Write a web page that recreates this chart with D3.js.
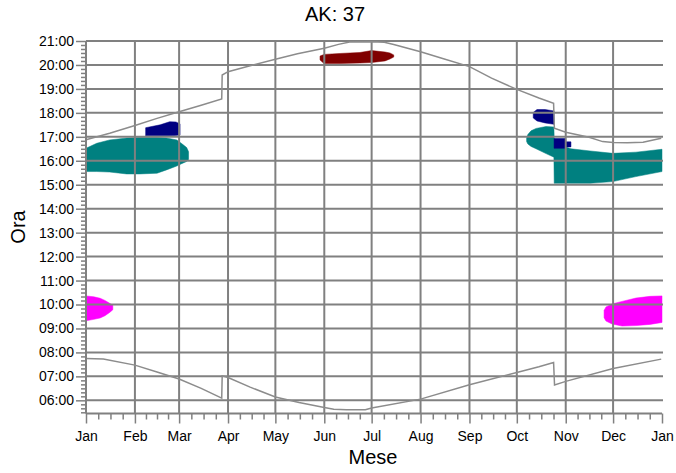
<!DOCTYPE html>
<html>
<head>
<meta charset="utf-8">
<script src="https://cdn.jsdelivr.net/npm/d3@7"></script>
<style>
  html, body { margin: 0; padding: 0; background: #fff; }
  svg { display: block; font-family: "Liberation Sans", Arial, sans-serif; }
</style>
</head>
<body>
<svg id="chart" width="676" height="473"></svg>
<script>
// ---------- data (day of year 0..365, time in decimal hours) ----------
const title = "AK: 37";
const xLabel = "Mese";
const yLabel = "Ora";
const hourTicks = [6,7,8,9,10,11,12,13,14,15,16,17,18,19,20,21];

// sunset curve
const sunsetDays  = [0, 15, 31, 45, 59, 73, 86, 86.3, 90, 104, 120, 134, 151, 160, 167, 181, 189, 195, 212, 226, 243, 257, 273, 287, 296.3, 296.8, 304, 318.8, 327.4, 334, 343, 353, 364.5];
const sunsetTimes = [16.88, 17.15, 17.47, 17.77, 18.05, 18.32, 18.58, 19.58, 19.72, 19.97, 20.24, 20.47, 20.70, 20.86, 20.96, 20.97, 20.95, 20.85, 20.55, 20.27, 19.93, 19.45, 18.98, 18.62, 18.40, 17.36, 17.19, 16.98, 16.80, 16.76, 16.75, 16.77, 16.94];

// sunrise curve
const sunriseDays  = [0, 11, 31, 45, 59, 73, 86, 86.3, 90, 104, 120, 135, 151, 157, 165, 177, 181, 212, 243, 273, 287, 296.3, 296.9, 304, 334, 364.5];
const sunriseTimes = [7.75, 7.72, 7.47, 7.18, 6.89, 6.50, 6.09, 7.02, 6.95, 6.55, 6.14, 5.91, 5.70, 5.63, 5.61, 5.61, 5.68, 6.05, 6.65, 7.16, 7.40, 7.58, 6.64, 6.79, 7.33, 7.72];

// shadow regions: day, top time, bottom time
const tealLeftDays   = [0, 6.8, 15, 25.8, 34, 45, 51, 57.5, 60.6, 63.8, 65];
const tealLeftTop    = [16.52, 16.73, 16.87, 16.95, 16.97, 16.97, 16.95, 16.87, 16.72, 16.55, 16.38];
const tealLeftBottom = [15.55, 15.55, 15.53, 15.45, 15.45, 15.48, 15.62, 15.78, 15.88, 15.97, 16.05];

const navyLeftDays   = [37.8, 47, 53, 57, 59.6];
const navyLeftTop    = [17.38, 17.50, 17.63, 17.62, 17.54];
const navyLeftBottom = [17.04, 17.04, 17.04, 17.06, 17.08];

const magentaLeftDays   = [0, 5, 9, 12, 15, 17];
const magentaLeftTop    = [10.36, 10.32, 10.26, 10.17, 10.05, 9.97];
const magentaLeftBottom = [9.32, 9.38, 9.44, 9.53, 9.67, 9.78];

const maroonDays   = [148.3, 150.8, 161, 173.6, 181, 189.5, 192.6, 195];
const maroonTop    = [20.37, 20.44, 20.48, 20.52, 20.60, 20.54, 20.50, 20.42];
const maroonBottom = [20.21, 20.06, 20.06, 20.08, 20.10, 20.17, 20.25, 20.33];

const tealRightDays   = [279.2, 280.0, 282.0, 285.2, 291.5, 296.5, 296.7, 303.8, 303.9, 307.3, 319.4, 333.8, 348.5, 365];
const tealRightTop    = [16.95, 17.10, 17.25, 17.35, 17.43, 17.41, 16.90, 16.90, 16.58, 16.50, 16.41, 16.31, 16.36, 16.48];
const tealRightBottom = [16.80, 16.70, 16.60, 16.50, 16.30, 16.15, 15.06, 15.06, 15.06, 15.06, 15.06, 15.13, 15.34, 15.55];

const navyRightUpperDays   = [283.4, 285.8, 290.9, 296.6];
const navyRightUpperTop    = [18.02, 18.14, 18.14, 18.08];
const navyRightUpperBottom = [17.79, 17.66, 17.58, 17.52];

const navyRightLowerDays   = [296.6, 303.8, 303.9, 307.3];
const navyRightLowerTop    = [16.93, 16.93, 16.79, 16.79];
const navyRightLowerBottom = [16.52, 16.52, 16.58, 16.58];

const magentaRightDays   = [328.3, 329.5, 333.3, 339.7, 348.5, 357.4, 365];
const magentaRightTop    = [9.75, 9.90, 10.02, 10.13, 10.27, 10.34, 10.36];
const magentaRightBottom = [9.45, 9.31, 9.19, 9.10, 9.12, 9.17, 9.25];

// ---------- chart ----------
const svg = d3.select("#chart");
const yearStart = Date.UTC(2015, 0, 1);
const toDate = d => new Date(yearStart + d * 864e5);

const x = d3.scaleUtc().domain([toDate(0), toDate(365)]).range([86, 662]);
const y = d3.scaleLinear().domain([5.45, 21]).range([413.5, 41]);

const gridColor = "#808080";
const colors = { teal: "#008080", navy: "#000080", maroon: "#800000", magenta: "#ff00ff" };

const zip = (days, top, bottom) => days.map((d, i) => ({ day: d, top: top[i], bottom: bottom[i] }));
const area = d3.area()
  .x(d => x(toDate(d.day)))
  .y0(d => y(d.bottom))
  .y1(d => y(d.top));

const regions = [
  [zip(tealLeftDays, tealLeftTop, tealLeftBottom), colors.teal],
  [zip(tealRightDays, tealRightTop, tealRightBottom), colors.teal],
  [zip(navyLeftDays, navyLeftTop, navyLeftBottom), colors.navy],
  [zip(navyRightUpperDays, navyRightUpperTop, navyRightUpperBottom), colors.navy],
  [zip(navyRightLowerDays, navyRightLowerTop, navyRightLowerBottom), colors.navy],
  [zip(magentaLeftDays, magentaLeftTop, magentaLeftBottom), colors.magenta],
  [zip(magentaRightDays, magentaRightTop, magentaRightBottom), colors.magenta],
  [zip(maroonDays, maroonTop, maroonBottom), colors.maroon]
];

svg.append("g").selectAll("path").data(regions).join("path")
  .attr("d", d => area(d[0]))
  .attr("fill", d => d[1])
  .attr("stroke", d => d[1])
  .attr("stroke-width", 0.5);

// grid
const months = d3.utcMonth.range(toDate(0), toDate(365));
const grid = svg.append("g").attr("stroke", gridColor).attr("stroke-width", 2);
grid.selectAll("line.h").data(hourTicks).join("line")
  .attr("x1", x.range()[0]).attr("x2", x.range()[1] + 1)
  .attr("y1", d => y(d)).attr("y2", d => y(d));
grid.selectAll("line.v").data(months.slice(1)).join("line")
  .attr("x1", d => x(d)).attr("x2", d => x(d))
  .attr("y1", y(21)).attr("y2", y.range()[0]);

// curves
const line = d3.line().x(d => x(toDate(d.day))).y(d => y(d.t));
const sunset = sunsetDays.map((d, i) => ({ day: d, t: sunsetTimes[i] }));
const sunrise = sunriseDays.map((d, i) => ({ day: d, t: sunriseTimes[i] }));
svg.append("g").selectAll("path").data([sunset, sunrise]).join("path")
  .attr("d", line)
  .attr("fill", "none")
  .attr("stroke", "#8c8c8c")
  .attr("stroke-width", 1.5);

// minor ticks
const minorX = [];
months.forEach(m => {
  const next = d3.utcMonth.offset(m, 1);
  for (let k = 1; k < 4; k++) minorX.push(new Date(+m + (next - m) * k / 4));
});
const minorY = [];
for (let h = 5; h <= 21; h++) for (let k = 1; k < 6; k++) {
  const v = h + k / 6;
  if (v >= y.domain()[0] && v < 21) minorY.push(v);
}

const fmtHour = d => d3.format("02d")(d) + ":00";

const yAxisMinor = svg.append("g").attr("transform", `translate(${x.range()[0]},0)`)
  .call(d3.axisLeft(y).tickValues(minorY).tickSize(5).tickFormat(""));
const yAxis = svg.append("g").attr("transform", `translate(${x.range()[0]},0)`)
  .call(d3.axisLeft(y).tickValues(hourTicks).tickSize(10).tickPadding(2).tickFormat(fmtHour));

const xAxisMinor = svg.append("g").attr("transform", `translate(0,${y.range()[0]})`)
  .call(d3.axisBottom(x).tickValues(minorX).tickSize(6).tickFormat(""));
const xAxis = svg.append("g").attr("transform", `translate(0,${y.range()[0]})`)
  .call(d3.axisBottom(x).tickValues(months.concat([toDate(365)])).tickSize(10).tickPadding(8)
    .tickFormat(d3.utcFormat("%b")));

[yAxisMinor, yAxis, xAxisMinor, xAxis].forEach(g => {
  g.select(".domain").attr("stroke", gridColor).attr("stroke-width", 2);
  g.selectAll(".tick line").attr("stroke", gridColor).attr("stroke-width", 1.5);
  g.selectAll(".tick text").attr("fill", "#000").attr("font-size", 14)
    .attr("font-family", "'Liberation Sans', Arial, sans-serif");
});
yAxisMinor.select(".domain").remove();
xAxisMinor.select(".domain").remove();
yAxis.select(".domain").attr("d", `M0,${y(21)}V${y.range()[0]}`);
xAxis.select(".domain").attr("d", `M${x.range()[0]},0H${x.range()[1]}`);

// labels
svg.append("text").attr("x", 335).attr("y", 21).attr("text-anchor", "middle")
  .attr("font-size", 20).attr("fill", "#000").text(title);
svg.append("text").attr("x", 373).attr("y", 464).attr("text-anchor", "middle")
  .attr("font-size", 20).attr("fill", "#000").text(xLabel);
svg.append("text").attr("transform", "translate(25,227) rotate(-90)").attr("text-anchor", "middle")
  .attr("font-size", 20).attr("fill", "#000").text(yLabel);
</script>
</body>
</html>
